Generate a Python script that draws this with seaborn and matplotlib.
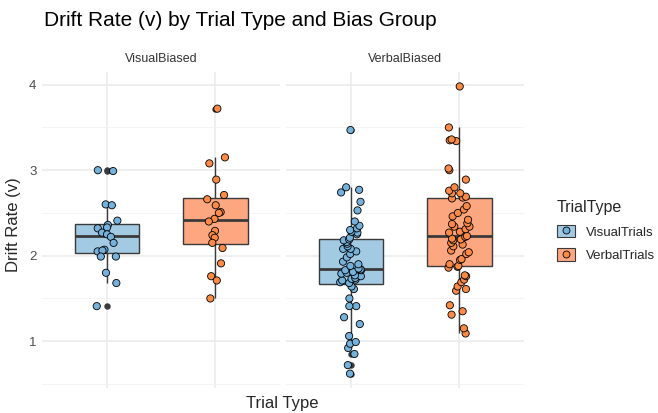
import numpy as np
import pandas as pd
import matplotlib
matplotlib.use("Agg")
import matplotlib.pyplot as plt
import seaborn as sns
from matplotlib.patches import Patch
from matplotlib.lines import Line2D

# ---------------- data ----------------
bias_groups = ["VisualBiased", "VerbalBiased"]
trial_types = ["VisualTrials", "VerbalTrials"]

visualbiased_visualtrials = [3.00, 2.99, 2.60, 2.59, 2.41, 2.36, 2.33, 2.32, 2.27, 2.25,
                             2.22, 2.15, 2.07, 2.05, 2.06, 1.99, 1.99, 1.80, 1.68, 1.41]
visualbiased_verbaltrials = [3.72, 3.15, 3.08, 2.89, 2.71, 2.66, 2.59, 2.51, 2.50, 2.43,
                             2.40, 2.29, 2.24, 2.21, 2.15, 2.09, 1.91, 1.76, 1.71, 1.50]
verbalbiased_visualtrials = [0.62, 0.72, 0.85, 0.92, 0.97, 0.99, 1.06, 1.20, 1.28, 1.41,
                             1.41, 1.50, 1.61, 1.64, 1.68, 1.69, 1.71, 1.72, 1.73, 1.74,
                             1.76, 1.77, 1.79, 1.80, 1.81, 1.83, 1.83, 1.84, 1.85, 1.88,
                             1.90, 1.93, 1.98, 2.02, 2.05, 2.08, 2.08, 2.11, 2.14, 2.16,
                             2.18, 2.19, 2.21, 2.25, 2.27, 2.28, 2.30, 2.32, 2.35, 2.40,
                             2.53, 2.63, 2.74, 2.77, 2.80, 3.47]
verbalbiased_verbaltrials = [1.09, 1.15, 1.31, 1.35, 1.42, 1.59, 1.61, 1.64, 1.69, 1.72,
                             1.76, 1.77, 1.86, 1.87, 1.88, 1.90, 1.95, 1.96, 2.02, 2.04,
                             2.06, 2.11, 2.13, 2.15, 2.18, 2.19, 2.20, 2.22, 2.23, 2.27,
                             2.28, 2.31, 2.34, 2.34, 2.37, 2.38, 2.42, 2.46, 2.50, 2.54,
                             2.58, 2.67, 2.68, 2.69, 2.73, 2.73, 2.76, 2.80, 2.89, 3.00,
                             3.02, 3.34, 3.35, 3.36, 3.50, 3.98]

y_ticks = [1, 2, 3, 4]
y_minor = [0.5, 1.5, 2.5, 3.5]

rows = []
for g, tt, vals in [
    ("VisualBiased", "VisualTrials", visualbiased_visualtrials),
    ("VisualBiased", "VerbalTrials", visualbiased_verbaltrials),
    ("VerbalBiased", "VisualTrials", verbalbiased_visualtrials),
    ("VerbalBiased", "VerbalTrials", verbalbiased_verbaltrials),
]:
    for v in vals:
        rows.append((g, tt, v))
df = pd.DataFrame(rows, columns=["BiasGroup", "TrialType", "DriftRate"])

# ---------------- style ----------------
sns.set_theme(style="white")
plt.rcParams["font.family"] = ["Liberation Sans", "DejaVu Sans"]

box_colors = {"VisualTrials": "#A3CAE3", "VerbalTrials": "#FCA77F"}
pt_colors = {"VisualTrials": "#74B1DB", "VerbalTrials": "#FA8A45"}
line_col = "#3A3A3A"

fig = plt.figure(figsize=(6.58, 4.13), dpi=100)
np.random.seed(7)

ymin, ymax = 0.452, 4.148
for i, g in enumerate(bias_groups):
    ax = fig.add_axes([0.064 + i * 0.3708, 0.0605, 0.3617, 0.765])
    sub = df[df.BiasGroup == g]
    sns.boxplot(data=sub, x="TrialType", y="DriftRate", hue="TrialType",
                order=trial_types, hue_order=trial_types, palette=box_colors,
                width=0.6, saturation=1, linecolor=line_col, linewidth=1.0,
                showcaps=False, fliersize=3.6,
                flierprops=dict(marker="o", markerfacecolor=line_col,
                                markeredgecolor=line_col),
                medianprops=dict(linewidth=2.0, color=line_col),
                legend=False, ax=ax)
    sns.stripplot(data=sub, x="TrialType", y="DriftRate", hue="TrialType",
                  order=trial_types, hue_order=trial_types, palette=pt_colors,
                  jitter=0.1, size=5.2, edgecolor="black", linewidth=0.6,
                  legend=False, ax=ax)
    ax.set_xlim(-0.6, 1.6)
    ax.set_ylim(ymin, ymax)
    ax.set_yticks(y_ticks)
    ax.set_yticks(y_minor, minor=True)
    ax.set_axisbelow(True)
    ax.grid(which="major", color="#EBEBEB", linewidth=1.1)
    ax.grid(which="minor", axis="y", color="#F2F2F2", linewidth=0.6)
    for s in ax.spines.values():
        s.set_visible(False)
    ax.tick_params(axis="x", labelbottom=False, length=0)
    ax.tick_params(axis="y", which="both", length=0, labelsize=9.5,
                   labelcolor="#4D4D4D", pad=4)
    if i == 1:
        ax.tick_params(axis="y", labelleft=False)
    ax.set_xlabel("")
    ax.set_ylabel("")
    ax.set_title(g, fontsize=9, color="#333333", pad=7.5)
    ax.set_facecolor("white")

fig.text(0.067, 0.950, "Drift Rate (v) by Trial Type and Bias Group",
         fontsize=15, ha="left", va="center", color="black")
fig.text(0.021, 0.455, "Drift Rate (v)", rotation=90, fontsize=12,
         ha="center", va="center")
fig.text(0.4286, 0.024, "Trial Type", fontsize=12, ha="center", va="center")

handles = []
for tt in trial_types:
    handles.append((Patch(facecolor=box_colors[tt], edgecolor=line_col, linewidth=0.8),
                    Line2D([], [], marker="o", ls="", markerfacecolor=pt_colors[tt],
                           markeredgecolor="black", markersize=5, markeredgewidth=0.6)))
leg = fig.legend(handles, trial_types, title="TrialType", loc="upper left",
                 bbox_to_anchor=(545 / 658, 1 - 188 / 413), frameon=False,
                 fontsize=9.5, title_fontsize=11.5, alignment="left",
                 handlelength=1.4, handleheight=1.1, labelspacing=0.75)

fig.savefig("out.png", dpi=100, facecolor="white")
